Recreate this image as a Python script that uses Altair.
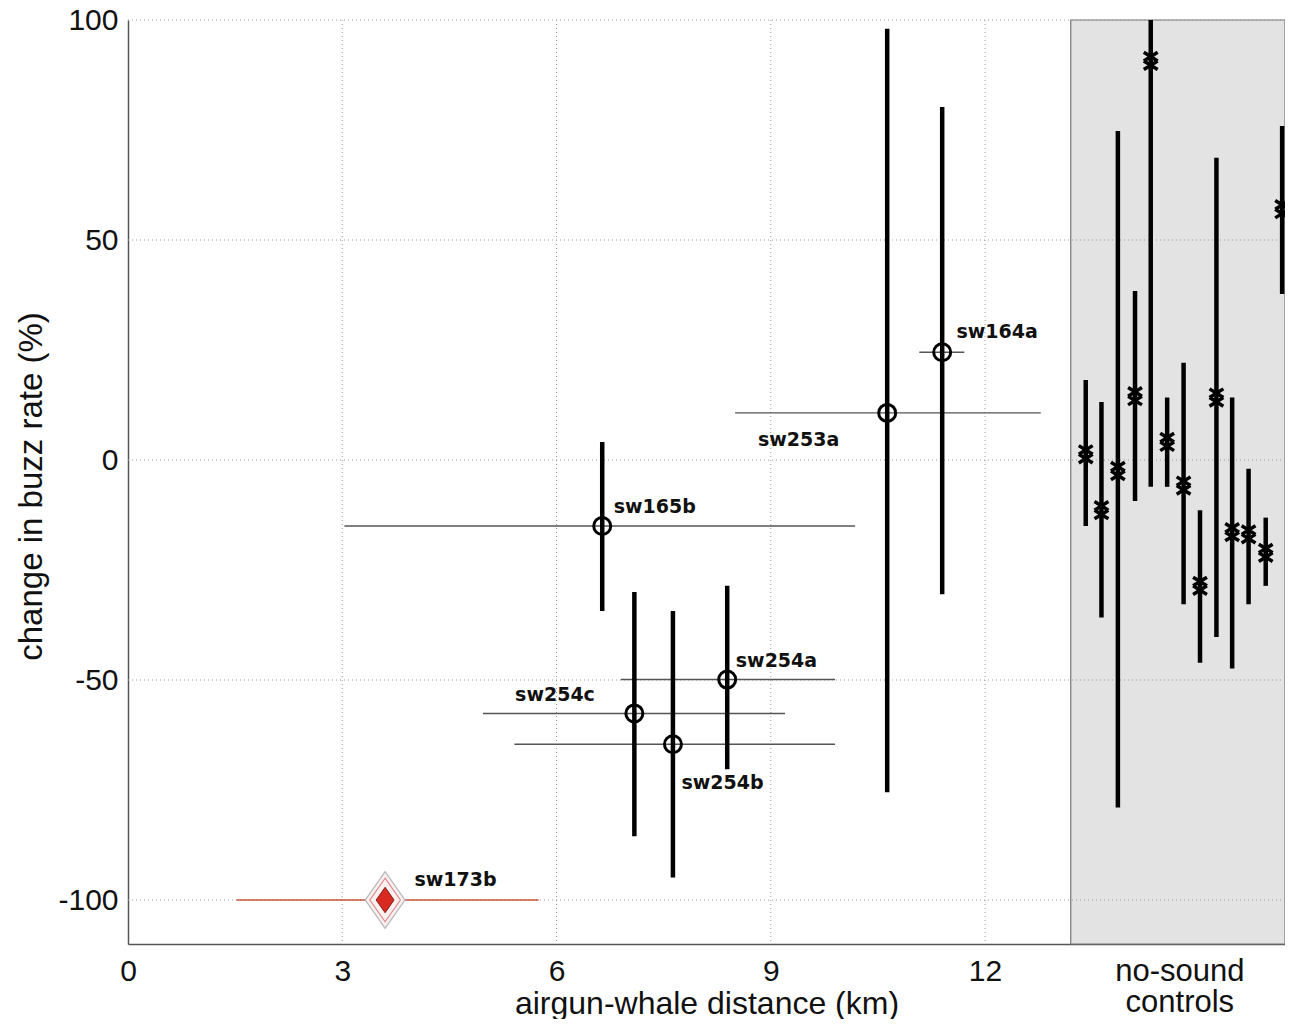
import altair as alt
import pandas as pd

# ---------------- data ----------------
whale_ids = ["sw173b", "sw165b", "sw254c", "sw254b", "sw254a", "sw253a", "sw164a"]
distance_km = [3.60, 6.64, 7.09, 7.63, 8.39, 10.63, 11.40]
distance_lo = [1.52, 3.03, 4.97, 5.41, 6.90, 8.50, 11.08]
distance_hi = [5.75, 10.18, 9.20, 9.90, 9.90, 12.78, 11.71]
buzz_change = [-100.0, -15.0, -57.6, -64.6, -49.9, 10.7, 24.5]
buzz_lo = [None, -34.3, -85.5, -94.9, -70.3, -75.5, -30.5]
buzz_hi = [None, 4.1, -30.0, -34.3, -28.6, 98.0, 80.2]
label_x = [4.01, 6.80, 5.42, 7.75, 8.51, 8.82, 11.60]
label_y = [-95.5, -10.6, -53.4, -73.5, -45.7, 4.5, 29.1]

control_x = [13.41, 13.63, 13.86, 14.10, 14.32, 14.55, 14.78, 15.01, 15.24, 15.46, 15.69, 15.93, 16.16]
control_mid = [1.3, -11.4, -2.5, 14.5, 90.7, 4.1, -5.8, -28.6, 14.2, -16.4, -16.9, -21.1, 57.0]
control_lo = [-15.0, -35.8, -79.0, -9.3, -6.1, -6.1, -32.8, -46.1, -40.2, -47.4, -32.8, -28.6, 37.7]
control_hi = [18.2, 13.2, 74.8, 38.4, 100.0, 14.2, 22.1, -11.4, 68.7, 14.2, -2.0, -13.1, 75.9]

x_domain = [0.0, 16.2]
y_domain = [-110.0, 100.0]
control_start = 13.2
x_tick_values = [0, 3, 6, 9, 12]
control_label_x = 14.72
y_tick_values = [-100, -50, 0, 50, 100]
grid_x_values = [3, 6, 9, 12]

# ---------------- tables ----------------
whales = pd.DataFrame({
    "id": whale_ids, "dist": distance_km, "dlo": distance_lo, "dhi": distance_hi,
    "chg": buzz_change, "clo": buzz_lo, "chi": buzz_hi, "lx": label_x, "ly": label_y,
})
controls = pd.DataFrame({"x": control_x, "mid": control_mid, "lo": control_lo, "hi": control_hi})
region = pd.DataFrame({"x0": [control_start], "x1": [x_domain[1]], "y0": [y_domain[0]], "y1": [y_domain[1]]})
grid_x = pd.DataFrame({"gx": grid_x_values})
grid_y = pd.DataFrame({"gy": y_tick_values})

AX_FONT = "Liberation Sans"
LBL_FONT = "DejaVu Sans"

xscale = alt.Scale(domain=x_domain, nice=False, zero=False)
yscale = alt.Scale(domain=y_domain, nice=False, zero=False)

xaxis = alt.Axis(
    values=x_tick_values + [control_label_x],
    labelExpr="datum.value > 13 ? ['no-sound', 'controls'] : datum.label",
    ticks=False, grid=False, labelFont=AX_FONT,
    labelFontSize={"condition": {"test": "datum.value > 13", "value": 31}, "value": 30},
    labelColor="#111",
    labelPadding=12, labelLineHeight=31, labelOverlap=False, labelFlush=False,
    domainColor="#555", domainWidth=1.5,
    title="airgun-whale distance (km)", titleFont=AX_FONT, titleFontSize=32,
    titleFontWeight="normal", titleColor="#111", titleY=59, titleBaseline="middle",
)
yaxis = alt.Axis(
    values=y_tick_values, labelExpr="'' + datum.value",
    ticks=False, grid=False, labelFont=AX_FONT, labelFontSize=30, labelColor="#111",
    labelPadding=10, labelOverlap=False, labelFlush=False,
    domainColor="#555", domainWidth=1.5,
    title="change in buzz rate (%)", titleFont=AX_FONT, titleFontSize=33,
    titleFontWeight="normal", titleColor="#111", titleX=-97, titleY=466,
    titleAngle=270, titleAlign="center", titleBaseline="middle",
)


def X(field):
    return alt.X(f"{field}:Q", scale=xscale, axis=xaxis)


def Y(field):
    return alt.Y(f"{field}:Q", scale=yscale, axis=yaxis)


rect = alt.Chart(region).mark_rect(fill="#e3e3e3", stroke="#777", strokeWidth=1.2).encode(
    x=X("x0"), x2="x1", y=Y("y0"), y2="y1"
)

vgrid = alt.Chart(grid_x).mark_rule(color="#9a9a9a", strokeDash=[1, 3], strokeWidth=1).encode(x=X("gx"))
hgrid = alt.Chart(grid_y).mark_rule(color="#9a9a9a", strokeDash=[1, 3], strokeWidth=1).encode(y=Y("gy"))

hbars = alt.Chart(whales).transform_filter("datum.id != 'sw173b'").mark_rule(
    color="#555", strokeWidth=1.4
).encode(x=X("dlo"), x2="dhi", y=Y("chg"))

hbar_red = alt.Chart(whales).transform_filter("datum.id == 'sw173b'").mark_rule(
    color="#c8553d", strokeWidth=1.4
).encode(x=X("dlo"), x2="dhi", y=Y("chg"))

vbars = alt.Chart(whales).transform_filter("datum.clo != null").mark_rule(
    color="black", strokeWidth=4.5, strokeCap="butt"
).encode(x=X("dist"), y=Y("clo"), y2="chi")

circles = alt.Chart(whales).transform_filter("datum.id != 'sw173b'").mark_point(
    shape="circle", filled=False, stroke="black", strokeWidth=3, size=289, opacity=1
).encode(x=X("dist"), y=Y("chg"))

diamond_path = "M0,-1L0.7,0L0,1L-0.7,0Z"
red_base = alt.Chart(whales).transform_filter("datum.id == 'sw173b'")
d_outer = red_base.mark_point(
    shape=diamond_path, filled=True, fill="#faf0f0", stroke="#b8b8c0", strokeWidth=1.3, size=3200, opacity=1
).encode(x=X("dist"), y=Y("chg"))
d_mid = red_base.mark_point(
    shape=diamond_path, filled=False, stroke="#e08a8a", strokeWidth=1.2, size=1900, opacity=1
).encode(x=X("dist"), y=Y("chg"))
d_inner = red_base.mark_point(
    shape=diamond_path, filled=True, fill="#d82a20", stroke="#8a1a14", strokeWidth=1, size=650, opacity=1
).encode(x=X("dist"), y=Y("chg"))

ctrl_bars = alt.Chart(controls).mark_rule(color="black", strokeWidth=4.5, strokeCap="butt").encode(
    x=X("x"), y=Y("lo"), y2="hi"
)
star_path = "M-0.8,-1L0.8,0M0.8,-1L-0.8,0M-0.8,0L0.8,1M0.8,0L-0.8,1"
ctrl_pts = alt.Chart(controls).mark_point(
    shape=star_path, filled=False, stroke="black", strokeWidth=3.5, size=300, opacity=1
).encode(x=X("x"), y=Y("mid"))

labels = alt.Chart(whales).mark_text(
    align="left", baseline="middle", font=LBL_FONT, fontWeight="bold", fontSize=19, color="#111"
).encode(x=X("lx"), y=Y("ly"), text="id:N")

chart = alt.layer(
    rect, vgrid, hgrid, hbars, hbar_red, vbars, circles, d_outer, d_mid, d_inner,
    ctrl_bars, ctrl_pts, labels
).properties(
    width=1157, height=924,
    autosize=alt.AutoSizeParams(type="none"),
    padding={"left": 120, "top": 12, "right": 0, "bottom": 75},
).configure_view(stroke=None)

chart.save("out.html", embed_options={"renderer": "svg", "actions": False})
